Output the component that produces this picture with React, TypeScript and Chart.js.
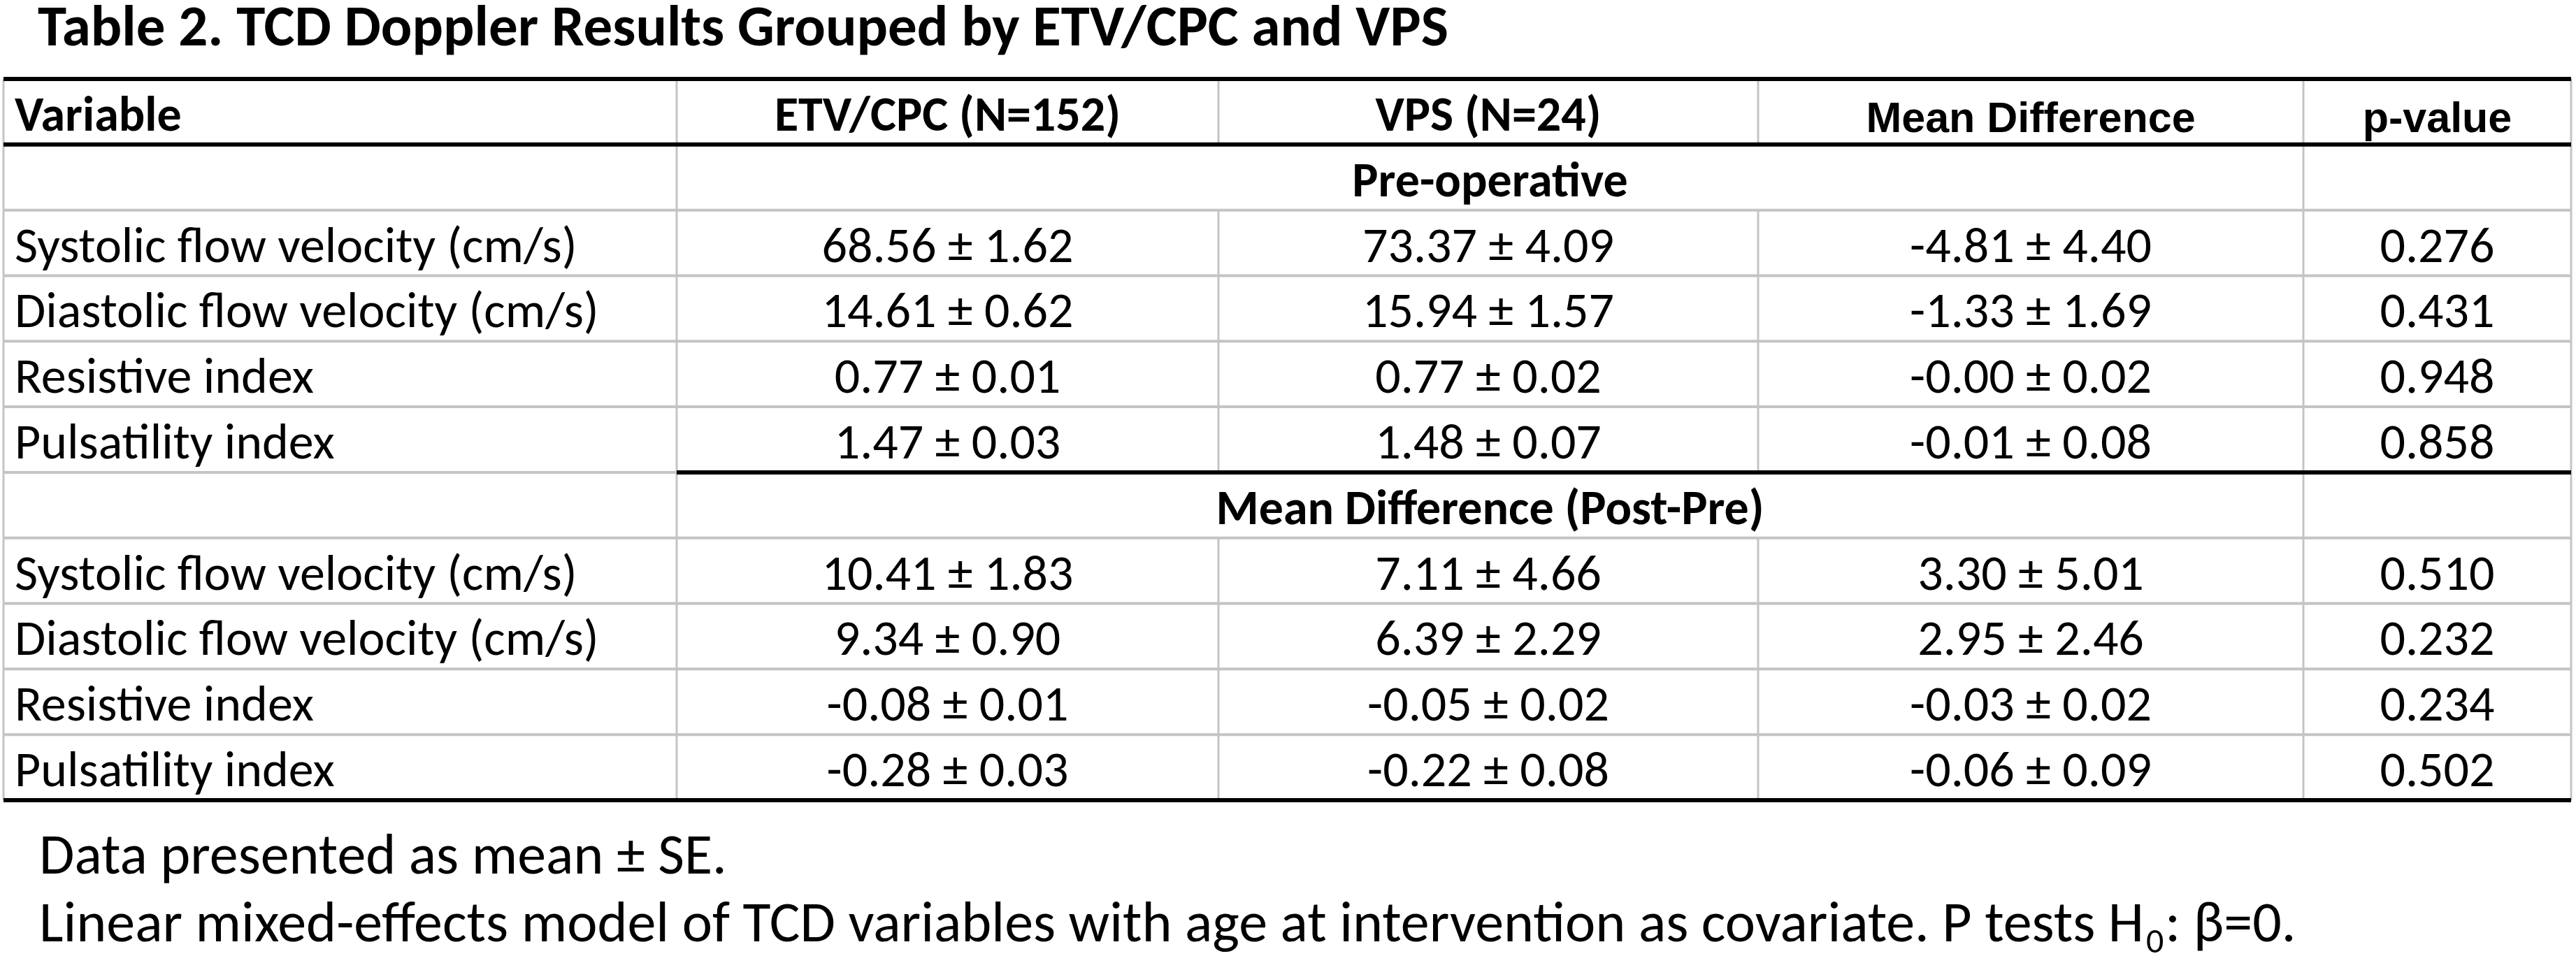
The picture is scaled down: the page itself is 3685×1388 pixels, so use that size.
import React, { useEffect, useRef } from 'react';
import { Chart, registerables } from 'chart.js';

Chart.register(...registerables);

// ---------- data ----------
const TITLE = 'Table 2. TCD Doppler Results Grouped by ETV/CPC and VPS';
const columnHeaders = ['Variable', 'ETV/CPC (N=152)', 'VPS (N=24)', 'Mean Difference', 'p-value'];
const sectionLabels = ['Pre-operative', 'Mean Difference (Post-Pre)'];
const variables = [
  'Systolic flow velocity (cm/s)',
  'Diastolic flow velocity (cm/s)',
  'Resistive index',
  'Pulsatility index',
];

const preEtvMean = [68.56, 14.61, 0.77, 1.47];
const preEtvSE = [1.62, 0.62, 0.01, 0.03];
const preVpsMean = [73.37, 15.94, 0.77, 1.48];
const preVpsSE = [4.09, 1.57, 0.02, 0.07];
const preDiffMean = [-4.81, -1.33, -0.0, -0.01];
const preDiffSE = [4.4, 1.69, 0.02, 0.08];
const preP = [0.276, 0.431, 0.948, 0.858];

const postEtvMean = [10.41, 9.34, -0.08, -0.28];
const postEtvSE = [1.83, 0.9, 0.01, 0.03];
const postVpsMean = [7.11, 6.39, -0.05, -0.22];
const postVpsSE = [4.66, 2.29, 0.02, 0.08];
const postDiffMean = [3.3, 2.95, -0.03, -0.06];
const postDiffSE = [5.01, 2.46, 0.02, 0.09];
const postP = [0.51, 0.232, 0.234, 0.502];

const footnote1 = 'Data presented as mean \u00b1 SE.';
const footnote2a = 'Linear mixed-effects model of TCD variables with age at intervention as covariate. P tests H';
const footnote2sub = '0';
const footnote2b = ': \u03b2=0.';

// ---------- layout (not data) ----------
const W = 3685;
const H = 1388;
const COL_EDGES = [0, 963, 1738, 2510, 3290, 3673];
const ROW_COUNT = 11;
const FONT = 'Carlito, Lato, "Open Sans", sans-serif';
const HEAD_FONT2 = '"Liberation Sans", Arial, sans-serif';

const fmt2 = (v: number) => {
  const neg = v < 0 || Object.is(v, -0);
  return (neg ? '-' : '') + Math.abs(v).toFixed(2);
};

type Row =
  | { kind: 'header' }
  | { kind: 'section'; label: string }
  | { kind: 'data'; cells: string[] };

function buildRows(): Row[] {
  const rows: Row[] = [{ kind: 'header' }];
  const groups = [
    { label: sectionLabels[0], a: preEtvMean, as: preEtvSE, b: preVpsMean, bs: preVpsSE, d: preDiffMean, ds: preDiffSE, p: preP },
    { label: sectionLabels[1], a: postEtvMean, as: postEtvSE, b: postVpsMean, bs: postVpsSE, d: postDiffMean, ds: postDiffSE, p: postP },
  ];
  groups.forEach((g) => {
    rows.push({ kind: 'section', label: g.label });
    variables.forEach((name, i) => {
      rows.push({
        kind: 'data',
        cells: [
          name,
          `${fmt2(g.a[i])} \u00b1 ${fmt2(g.as[i])}`,
          `${fmt2(g.b[i])} \u00b1 ${fmt2(g.bs[i])}`,
          `${fmt2(g.d[i])} \u00b1 ${fmt2(g.ds[i])}`,
          g.p[i].toFixed(3),
        ],
      });
    });
  });
  return rows;
}

const tablePlugin = {
  id: 'tablePlugin',
  beforeDraw(chart: any) {
    const ctx = chart.ctx;
    ctx.save();
    ctx.fillStyle = '#ffffff';
    ctx.fillRect(0, 0, chart.width, chart.height);
    ctx.restore();
  },
  afterDraw(chart: any) {
    const ctx: CanvasRenderingContext2D = chart.ctx;
    const xs = chart.scales.x;
    const ys = chart.scales.y;
    const area = chart.chartArea;
    const rows = buildRows();
    const X = (v: number) => xs.getPixelForValue(v);
    const Y = (v: number) => ys.getPixelForValue(v);

    ctx.save();
    // vertical gray lines
    ctx.strokeStyle = '#c4c4c4';
    ctx.lineWidth = 3;
    COL_EDGES.forEach((e, ci) => {
      rows.forEach((r, ri) => {
        if (r.kind === 'section' && (ci === 2 || ci === 3)) return;
        ctx.beginPath();
        ctx.moveTo(X(e), Y(ri));
        ctx.lineTo(X(e), Y(ri + 1));
        ctx.stroke();
      });
    });
    // horizontal gray lines
    ctx.lineWidth = 4;
    for (let b = 0; b <= ROW_COUNT; b++) {
      ctx.beginPath();
      ctx.moveTo(X(COL_EDGES[0]), Y(b));
      ctx.lineTo(X(COL_EDGES[5]), Y(b));
      ctx.stroke();
    }
    // black rules
    ctx.strokeStyle = '#000000';
    ctx.lineWidth = 6;
    const blackRule = (b: number, from: number) => {
      ctx.beginPath();
      ctx.moveTo(X(from), Y(b));
      ctx.lineTo(X(COL_EDGES[5]), Y(b));
      ctx.stroke();
    };
    blackRule(0, COL_EDGES[0]);
    blackRule(1, COL_EDGES[0]);
    blackRule(6, COL_EDGES[1]);
    blackRule(ROW_COUNT, COL_EDGES[0]);

    // text
    ctx.fillStyle = '#000000';
    ctx.textBaseline = 'alphabetic';
    const base = (ri: number) => Y(ri + 0.5) + 27;
    const center = (ci: number) => (X(COL_EDGES[ci]) + X(COL_EDGES[ci + 1])) / 2;
    const padL = 16;

    rows.forEach((r, ri) => {
      const by = base(ri);
      if (r.kind === 'header') {
        columnHeaders.forEach((h, ci) => {
          if (ci >= 3) {
            ctx.font = `bold 61px ${HEAD_FONT2}`;
            ctx.textAlign = 'center';
            ctx.fillText(h, center(ci), by + 2);
          } else {
            ctx.font = `bold 70px ${FONT}`;
            if (ci === 0) {
              ctx.textAlign = 'left';
              ctx.fillText(h, X(COL_EDGES[0]) + padL, by);
            } else {
              ctx.textAlign = 'center';
              ctx.fillText(h, center(ci), by);
            }
          }
        });
      } else if (r.kind === 'section') {
        ctx.font = `bold 70px ${FONT}`;
        ctx.textAlign = 'center';
        ctx.fillText(r.label, (X(COL_EDGES[1]) + X(COL_EDGES[4])) / 2, by);
      } else {
        ctx.font = `72px ${FONT}`;
        r.cells.forEach((c, ci) => {
          if (ci === 0) {
            ctx.textAlign = 'left';
            ctx.fillText(c, X(COL_EDGES[0]) + padL, by);
          } else {
            ctx.textAlign = 'center';
            ctx.fillText(c, center(ci), by);
          }
        });
      }
    });

    // title
    ctx.font = `bold 83px ${FONT}`;
    ctx.textAlign = 'left';
    ctx.fillText(TITLE, area.left + 49, area.top - 48);

    // footnotes
    const fnSize = 82;
    ctx.font = `${fnSize}px ${FONT}`;
    const fx = area.left + 51;
    ctx.fillText(footnote1, fx, area.bottom + 105);
    const fy2 = area.bottom + 202;
    ctx.fillText(footnote2a, fx, fy2);
    const w = ctx.measureText(footnote2a).width;
    ctx.font = `50px ${FONT}`;
    ctx.fillText(footnote2sub, fx + w + 3, fy2 + 16);
    const ws = ctx.measureText(footnote2sub).width;
    ctx.font = `${fnSize}px ${FONT}`;
    ctx.fillText(footnote2b, fx + w + ws + 5, fy2);
    ctx.restore();
  },
};

export default function App() {
  const ref = useRef<HTMLCanvasElement>(null);
  useEffect(() => {
    const canvas = ref.current;
    if (!canvas) return;
    const chart = new Chart(canvas, {
      type: 'scatter',
      data: { datasets: [] },
      options: {
        animation: false,
        responsive: false,
        maintainAspectRatio: false,
        layout: { padding: { top: 113, bottom: H - 1145, left: 5, right: W - 3678 } },
        plugins: { legend: { display: false }, tooltip: { enabled: false }, title: { display: false } },
        scales: {
          x: { type: 'linear', display: false, min: COL_EDGES[0], max: COL_EDGES[COL_EDGES.length - 1] },
          y: { type: 'linear', display: false, min: 0, max: ROW_COUNT, reverse: true },
        },
      },
      plugins: [tablePlugin],
    });
    return () => chart.destroy();
  }, []);
  return (
    <div style={{ position: 'absolute', left: 0, top: 0, width: W, height: H, background: '#fff' }}>
      <canvas ref={ref} width={W} height={H} style={{ width: W, height: H, display: 'block' }} />
    </div>
  );
}
